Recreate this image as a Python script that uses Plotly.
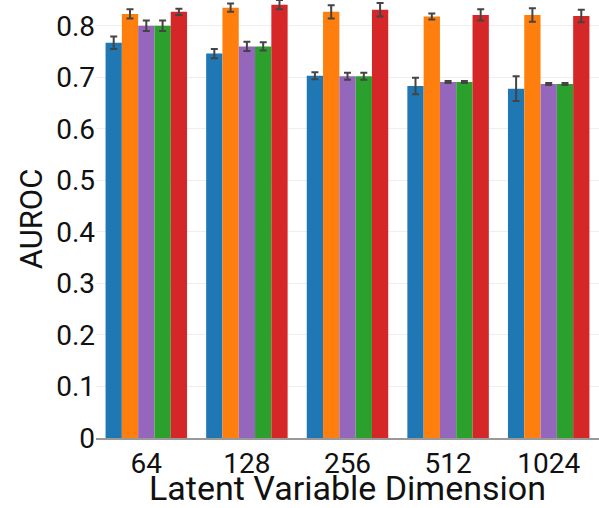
import plotly.graph_objects as go

categories = ["64", "128", "256", "512", "1024"]

series_names = ["Model A", "Model B", "Model C", "Model D", "Model E"]
series_colors = ["#1f77b4", "#ff7f0e", "#9467bd", "#2ca02c", "#d62728"]

blue_vals = [0.767, 0.746, 0.703, 0.683, 0.678]
blue_err = [0.012, 0.009, 0.007, 0.016, 0.024]
orange_vals = [0.823, 0.835, 0.827, 0.818, 0.821]
orange_err = [0.009, 0.008, 0.013, 0.006, 0.013]
purple_vals = [0.800, 0.760, 0.702, 0.691, 0.687]
purple_err = [0.010, 0.009, 0.007, 0.002, 0.002]
green_vals = [0.800, 0.760, 0.702, 0.691, 0.687]
green_err = [0.010, 0.008, 0.007, 0.002, 0.002]
red_vals = [0.827, 0.841, 0.831, 0.821, 0.819]
red_err = [0.006, 0.009, 0.013, 0.011, 0.012]

all_vals = [blue_vals, orange_vals, purple_vals, green_vals, red_vals]
all_errs = [blue_err, orange_err, purple_err, green_err, red_err]

fig = go.Figure()
for name, color, vals, errs in zip(series_names, series_colors, all_vals, all_errs):
    fig.add_trace(go.Bar(
        x=categories, y=vals, name=name,
        marker=dict(color=color, line=dict(width=0)),
        error_y=dict(type="data", array=errs, visible=True,
                     color="#444444", thickness=2, width=3.5),
    ))

fig.update_layout(
    width=599, height=508,
    margin=dict(l=96, r=0, t=0, b=70),
    barmode="group", bargap=0.19, bargroupgap=0,
    showlegend=False,
    paper_bgcolor="white", plot_bgcolor="white",
    font=dict(family="Roboto", size=28, color="#111111"),
    xaxis=dict(
        type="category",
        title=dict(text="Latent Variable Dimension", font=dict(size=34), standoff=0),
        showline=True, linecolor="#999999", linewidth=1.5,
        showgrid=False, ticks="",
        tickfont=dict(size=28),
    ),
    yaxis=dict(
        title=dict(text="AUROC", font=dict(size=31), standoff=4),
        range=[0, 0.85], dtick=0.1, tick0=0,
        showgrid=True, gridcolor="#eeeeee", gridwidth=1,
        zeroline=False, showline=False, ticks="",
        tickfont=dict(size=28),
    ),
)

fig.write_html("out.html")
